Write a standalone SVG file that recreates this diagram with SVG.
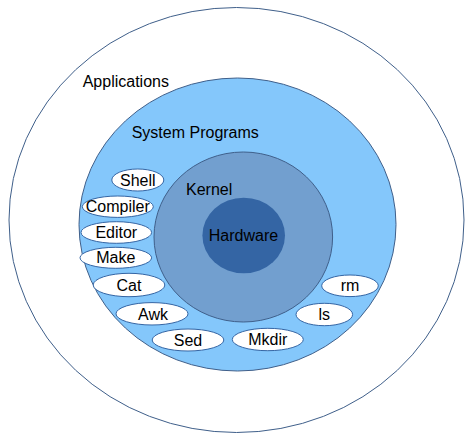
<svg xmlns="http://www.w3.org/2000/svg" width="474" height="440" viewBox="0 0 474 440">
<style>
text{font-family:"Liberation Sans",Arial,sans-serif;font-size:16px;fill:#000}
.c{text-anchor:middle}
.layer{stroke:#3f5f8a;stroke-width:1}
.pill{fill:#fff;stroke:#3465a4;stroke-width:1}
</style>
<rect width="474" height="440" fill="#fff"/>
<g id="applications">
<ellipse class="layer" cx="236.5" cy="220" rx="227.5" ry="212.5" fill="#fff" stroke="#5a7090"/>
<text x="82.7" y="87.3">Applications</text>
</g>
<g id="system-programs">
<ellipse class="layer" cx="237.5" cy="224.5" rx="158.5" ry="146.5" fill="#84c7fb"/>
<text x="131.7" y="137.7">System Programs</text>
</g>
<g id="kernel">
<ellipse class="layer" cx="243.3" cy="237" rx="89.3" ry="85" fill="#729fcf"/>
<text x="186" y="195">Kernel</text>
</g>
<g id="hardware">
<ellipse cx="243.7" cy="235.5" rx="41.3" ry="37.8" fill="#3465a4"/>
<text class="c" x="243.5" y="241" fill="#0a1428">Hardware</text>
</g>
<g id="shell"><ellipse class="pill" cx="137.8" cy="180" rx="26" ry="11"/><text class="c" x="137.8" y="186">Shell</text></g>
<g id="compiler"><ellipse class="pill" cx="117.8" cy="206.7" rx="35.5" ry="10.7"/><text class="c" x="117.8" y="212.3">Compiler</text></g>
<g id="editor"><ellipse class="pill" cx="116.3" cy="232.5" rx="35.3" ry="10.8"/><text class="c" x="116.3" y="238.2">Editor</text></g>
<g id="make"><ellipse class="pill" cx="115.8" cy="257.8" rx="35.8" ry="10.5"/><text class="c" x="115.8" y="263.4">Make</text></g>
<g id="cat"><ellipse class="pill" cx="129" cy="285" rx="35.8" ry="11.7"/><text class="c" x="129" y="290.7">Cat</text></g>
<g id="awk"><ellipse class="pill" cx="152" cy="313.8" rx="36" ry="11.2"/><text class="c" x="153" y="319.5">Awk</text></g>
<g id="sed"><ellipse class="pill" cx="188" cy="340" rx="35.8" ry="11"/><text class="c" x="188" y="345.7">Sed</text></g>
<g id="mkdir"><ellipse class="pill" cx="267.8" cy="339.5" rx="35.5" ry="11.2"/><text class="c" x="267.8" y="345.2">Mkdir</text></g>
<g id="ls"><ellipse class="pill" cx="324.3" cy="314.5" rx="28.3" ry="11.2"/><text class="c" x="324.3" y="320.2">ls</text></g>
<g id="rm"><ellipse class="pill" cx="350" cy="285.8" rx="28.3" ry="10.8"/><text class="c" x="350" y="291.4">rm</text></g>
<g id="connectors"/>
</svg>
